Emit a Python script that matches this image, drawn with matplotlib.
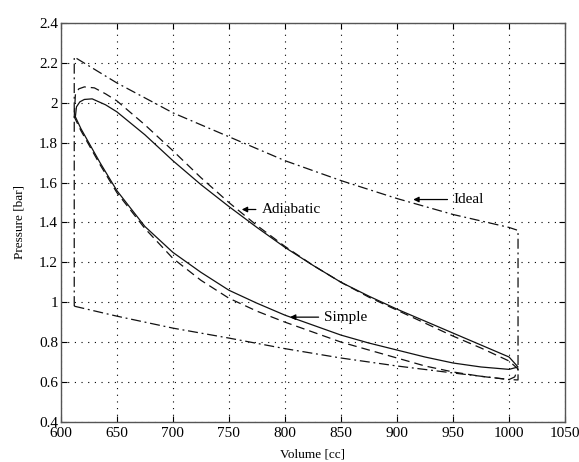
import matplotlib.pyplot as plt

# ideal cycle (dash-dot)
ideal_v = [612, 612, 650, 700, 750, 800, 850, 900, 950, 1000, 1008, 1008,
           1000, 950, 900, 850, 800, 750, 700, 650, 612]
ideal_p = [0.98, 2.23, 2.10, 1.95, 1.83, 1.71, 1.61, 1.52, 1.44, 1.375, 1.36, 0.61,
           0.612, 0.645, 0.68, 0.72, 0.767, 0.82, 0.87, 0.93, 0.98]

# simple analysis (solid)
simple_v = [613, 614, 617, 621, 628, 640, 650, 675, 700, 725, 750, 775, 800, 825, 850,
            875, 900, 925, 950, 975, 1000, 1008,
            1000, 975, 950, 925, 900, 875, 850, 825, 800, 775, 750, 725, 700, 675,
            650, 635, 625, 618, 613]
simple_p = [1.93, 1.98, 2.005, 2.017, 2.02, 1.99, 1.955, 1.84, 1.71, 1.59, 1.48, 1.375,
            1.275, 1.185, 1.10, 1.03, 0.965, 0.905, 0.845, 0.785, 0.725, 0.675,
            0.663, 0.675, 0.695, 0.725, 0.76, 0.795, 0.835, 0.885, 0.935, 0.995, 1.06,
            1.15, 1.25, 1.38, 1.56, 1.70, 1.80, 1.87, 1.93]

# adiabatic analysis (dashed)
adiab_v = [612, 613, 616, 621, 630, 640, 650, 675, 700, 725, 750, 775, 800, 825, 850,
           875, 900, 925, 950, 975, 1000, 1008,
           1005, 1000, 975, 950, 925, 900, 875, 850, 825, 800, 775, 750, 725, 700, 675,
           650, 635, 625, 618, 612]
adiab_p = [1.93, 2.04, 2.07, 2.08, 2.075, 2.045, 2.01, 1.89, 1.76, 1.625, 1.50, 1.385,
           1.28, 1.185, 1.10, 1.025, 0.96, 0.895, 0.83, 0.77, 0.705, 0.665,
           0.625, 0.612, 0.628, 0.65, 0.68, 0.72, 0.76, 0.80, 0.85, 0.90, 0.955, 1.02,
           1.11, 1.22, 1.37, 1.55, 1.69, 1.79, 1.86, 1.93]

xticks = [600, 650, 700, 750, 800, 850, 900, 950, 1000, 1050]
yticks = [0.4, 0.6, 0.8, 1.0, 1.2, 1.4, 1.6, 1.8, 2.0, 2.2, 2.4]
ytick_labels = ["0.4", "0.6", "0.8", "1", "1.2", "1.4", "1.6", "1.8", "2", "2.2", "2.4"]

plt.rcParams["font.family"] = ["Liberation Serif", "DejaVu Serif"]

fig = plt.figure(figsize=(5.79, 4.62), dpi=100)
ax = fig.add_axes([0.105, 0.087, 0.871, 0.863])

ax.plot(ideal_v, ideal_p, color="#111111", lw=0.9, linestyle=(0, (8, 3, 1.5, 3)))
ax.plot(simple_v, simple_p, color="#111111", lw=0.9, linestyle="-")
ax.plot(adiab_v, adiab_p, color="#111111", lw=0.9, linestyle=(0, (7, 4)))

arrow = dict(arrowstyle="-|>", color="black", lw=0.9, mutation_scale=8)
ax.annotate("Ideal", xy=(912, 1.515), xytext=(950, 1.515), fontsize=11,
            va="center", arrowprops=arrow)
ax.annotate("Adiabatic", xy=(759, 1.465), xytext=(779, 1.465), fontsize=11,
            va="center", arrowprops=arrow)
ax.annotate("Simple", xy=(802, 0.925), xytext=(835, 0.925), fontsize=11,
            va="center", arrowprops=arrow)

ax.set_xlim(600, 1050)
ax.set_ylim(0.4, 2.4)
ax.set_xticks(xticks)
ax.set_yticks(yticks)
ax.set_yticklabels(ytick_labels)
ax.tick_params(direction="in", top=True, right=True, labelsize=11, length=4)
ax.tick_params(axis="x", pad=4)
ax.tick_params(axis="y", pad=2)
ax.grid(True, color="black", linestyle=(0, (1, 5)), lw=0.8)
for s in ax.spines.values():
    s.set_color("#555555")
    s.set_linewidth(1.0)

ax.set_xlabel("Volume [cc]", fontsize=9.5, labelpad=6)
ax.set_ylabel("Pressure [bar]", fontsize=9.5, labelpad=10)

fig.savefig("out.png", dpi=100)
